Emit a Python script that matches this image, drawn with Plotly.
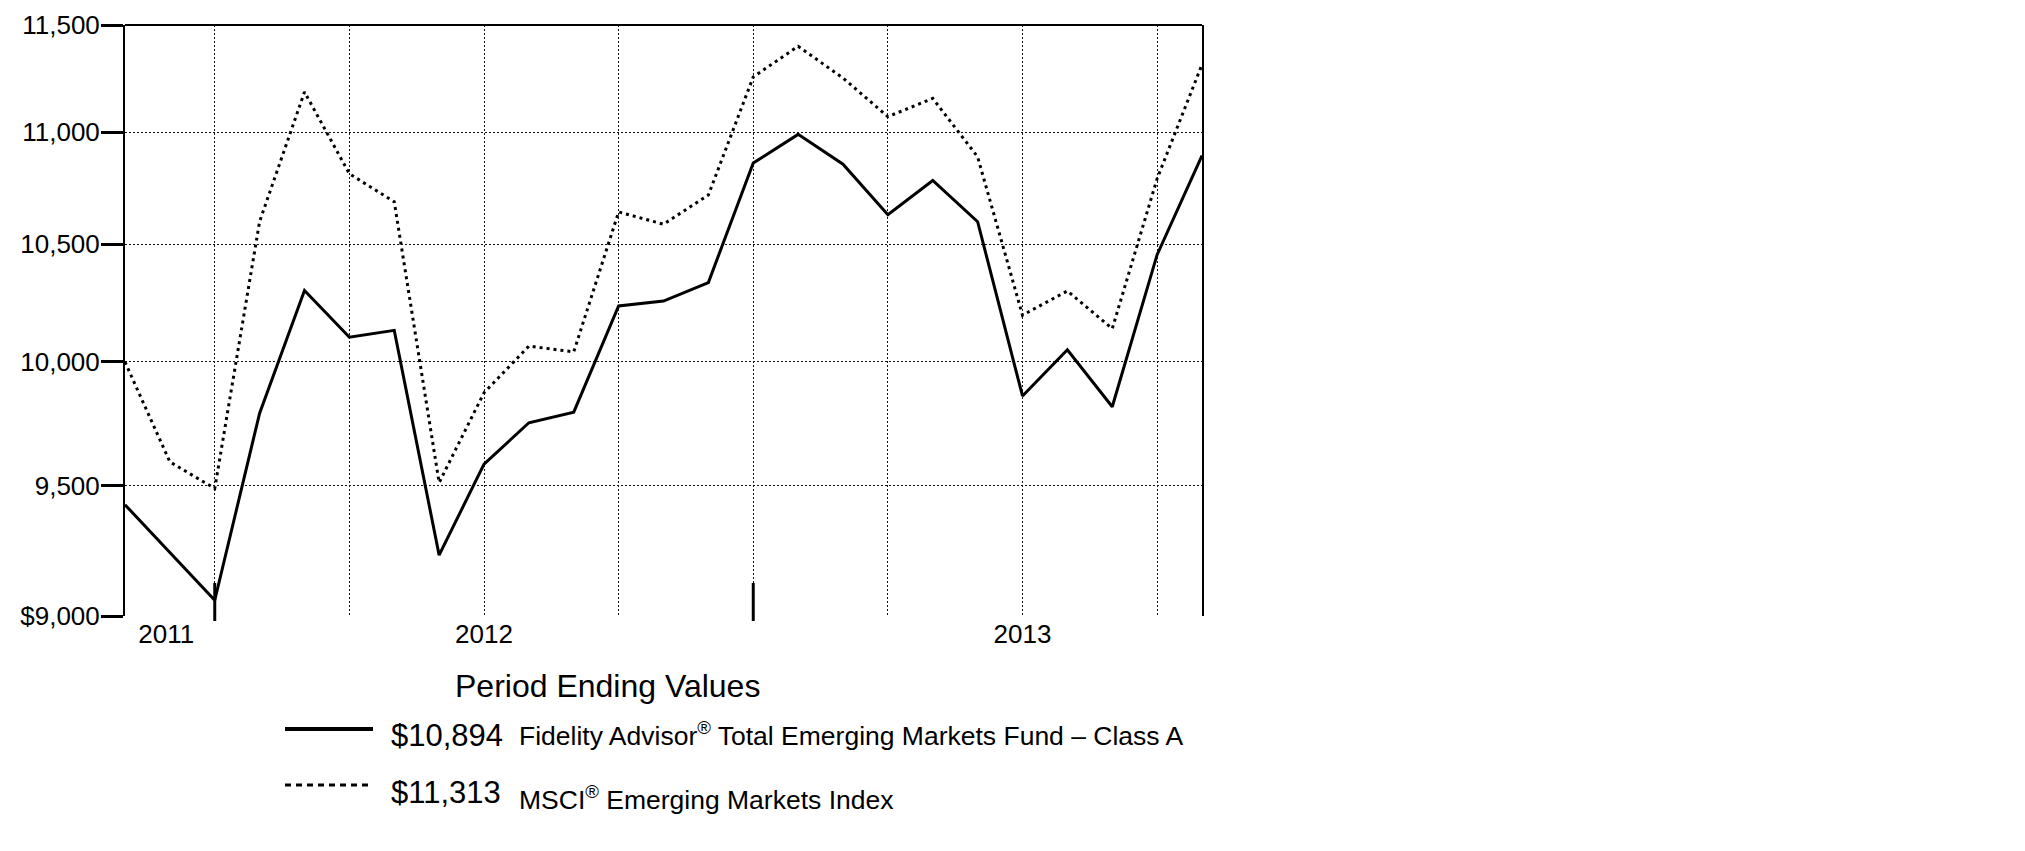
import math
import plotly.graph_objects as go

# ---------------- data ----------------
months = ["Oct-11", "Nov-11", "Dec-11", "Jan-12", "Feb-12", "Mar-12", "Apr-12", "May-12",
          "Jun-12", "Jul-12", "Aug-12", "Sep-12", "Oct-12", "Nov-12", "Dec-12", "Jan-13",
          "Feb-13", "Mar-13", "Apr-13", "May-13", "Jun-13", "Jul-13", "Aug-13", "Sep-13",
          "Oct-13"]

fund_values = [9425, 9241, 9059, 9790, 10301, 10103, 10132, 9230, 9585, 9751, 9794, 10235,
               10256, 10335, 10860, 10990, 10855, 10630, 10782, 10599, 9860, 10051, 9816,
               10455, 10894]

index_values = [10000, 9594, 9489, 10600, 11185, 10812, 10687, 9512, 9873, 10066, 10042, 10642,
                10588, 10717, 11255, 11399, 11250, 11071, 11155, 10888, 10196, 10299, 10139,
                10790, 11313]

fund_name = "Fidelity Advisor<sup>®</sup> Total Emerging Markets Fund \u2013 Class A"
index_name = "MSCI<sup>®</sup> Emerging Markets Index"

y_tick_vals = [9000, 9500, 10000, 10500, 11000, 11500]
y_tick_text = ["$9,000", "9,500", "10,000", "10,500", "11,000", "11,500"]

year_labels = ["2011", "2012", "2013"]
year_label_pos = [0.92, 8, 20]

chart_title = "Period Ending Values"

# ---------------- derived ----------------
x = list(range(len(months)))
quarter_ends = [i for i, m in enumerate(months) if m[:3] in ("Mar", "Jun", "Sep", "Dec")]
year_ends = [i for i, m in enumerate(months) if m.startswith("Dec")]

FONT = "Liberation Sans, Arial, Helvetica, sans-serif"
OFF = 8  # default page body margin
W, H = 2025 - 2 * OFF, 851 - 2 * OFF
# plot area in page pixels: x 125..1202, y 25..616
L = 125 - OFF
T = 25 - OFF
R = W - (1202 - OFF)
B = H - (616 - OFF)
PW, PH = W - L - R, H - T - B


def PX(px):
    """page pixel x -> paper fraction"""
    return (px - OFF - L) / PW


def PY(py):
    """page pixel y -> paper fraction"""
    return (H - B - (py - OFF)) / PH


fig = go.Figure()
fig.add_trace(go.Scatter(x=x, y=index_values, mode="lines", name="MSCI",
                         text=months,
                         line=dict(color="black", width=3, dash="3px,4px")))
fig.add_trace(go.Scatter(x=x, y=fund_values, mode="lines", name="Fund",
                         text=months,
                         line=dict(color="black", width=3)))

shapes = []
# top border
shapes.append(dict(type="line", xref="paper", yref="paper", x0=0, x1=1, y0=1, y1=1,
                   line=dict(color="black", width=2)))
# year-boundary heavy ticks
for xe in year_ends:
    shapes.append(dict(type="line", xref="x", yref="paper", x0=xe, x1=xe,
                       y0=PY(583), y1=PY(621), line=dict(color="black", width=3)))
# legend keys
shapes.append(dict(type="line", xref="paper", yref="paper", x0=PX(285), x1=PX(373),
                   y0=PY(729), y1=PY(729), line=dict(color="black", width=4)))
shapes.append(dict(type="line", xref="paper", yref="paper", x0=PX(285), x1=PX(368),
                   y0=PY(785), y1=PY(785), line=dict(color="black", width=3, dash="6px,5px")))

annotations = [
    dict(text=chart_title, xref="paper", yref="paper", x=PX(607), y=PY(686),
         xanchor="center", yanchor="middle", showarrow=False,
         font=dict(family=FONT, size=32, color="black")),
    dict(text=f"${fund_values[-1]:,}", xref="paper", yref="paper", x=PX(389), y=PY(735),
         xanchor="left", yanchor="middle", showarrow=False,
         font=dict(family=FONT, size=31, color="black")),
    dict(text=fund_name, xref="paper", yref="paper", x=PX(517), y=PY(734),
         xanchor="left", yanchor="middle", showarrow=False,
         font=dict(family=FONT, size=26.5, color="black")),
    dict(text=f"${index_values[-1]:,}", xref="paper", yref="paper", x=PX(389), y=PY(792),
         xanchor="left", yanchor="middle", showarrow=False,
         font=dict(family=FONT, size=31, color="black")),
    dict(text=index_name, xref="paper", yref="paper", x=PX(517), y=PY(798),
         xanchor="left", yanchor="middle", showarrow=False,
         font=dict(family=FONT, size=26.5, color="black")),
]

fig.update_layout(
    width=W, height=H,
    margin=dict(l=L, r=R, t=T, b=B, pad=0, autoexpand=False),
    paper_bgcolor="white", plot_bgcolor="white",
    showlegend=False,
    font=dict(family=FONT, size=26, color="black"),
    shapes=shapes,
    annotations=annotations,
    xaxis=dict(
        automargin=False,
        range=[0, len(months) - 1],
        showline=False, zeroline=False, showgrid=False,
        tickmode="array", tickvals=year_label_pos, ticktext=year_labels,
        ticks="", tickfont=dict(family=FONT, size=26, color="black"),
        minor=dict(tickmode="array", tickvals=quarter_ends, showgrid=True,
                   griddash="2px,2px", gridcolor="#111", gridwidth=1, ticks=""),
    ),
    yaxis=dict(
        automargin=False,
        type="log",
        range=[math.log10(y_tick_vals[0]), math.log10(y_tick_vals[-1])],
        showline=True, linecolor="black", linewidth=2, mirror=True,
        zeroline=False, showgrid=False,
        tickmode="array", tickvals=y_tick_vals, ticktext=y_tick_text,
        ticks="outside", ticklen=22, tickwidth=3, tickcolor="black",
        ticklabelstandoff=-4,
        tickfont=dict(family=FONT, size=26, color="black"),
        minor=dict(tickmode="array", tickvals=y_tick_vals[1:-1], showgrid=True,
                   griddash="2px,2px", gridcolor="#111", gridwidth=1, ticks=""),
    ),
)

fig.write_html("out.html")
